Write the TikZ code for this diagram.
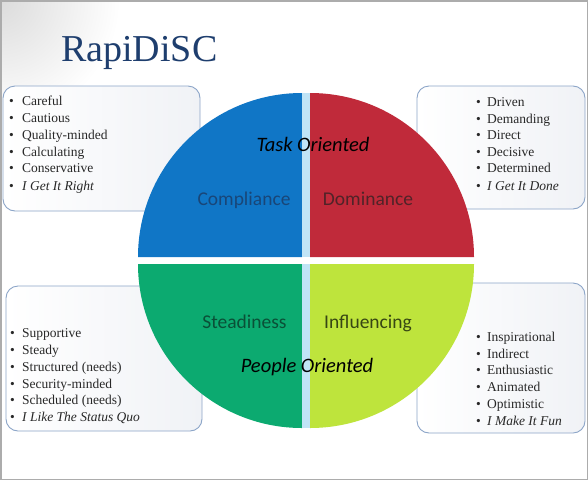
\documentclass[tikz,border=0pt]{standalone}
\usepackage{fontspec}
\setmainfont{Liberation Serif}
\newfontfamily\calib{Carlito}
\definecolor{cblue}{RGB}{16,118,198}
\definecolor{cred}{RGB}{192,42,58}
\definecolor{cgreen}{RGB}{12,170,112}
\definecolor{clime}{RGB}{190,228,60}
\definecolor{cstripe}{RGB}{192,228,246}
\definecolor{cborder}{RGB}{140,165,200}
\definecolor{ctitle}{RGB}{30,62,110}
\definecolor{cboxr}{RGB}{240,242,246}
\definecolor{ctext}{RGB}{40,40,40}
\definecolor{tcomp}{RGB}{25,70,120}
\definecolor{tdom}{RGB}{80,35,40}
\definecolor{tstead}{RGB}{10,80,55}
\definecolor{tinfl}{RGB}{55,70,20}
\newcommand\rditem[2]{\makebox[#1][l]{\textbullet}#2}
\begin{document}
\begin{tikzpicture}[x=1pt,y=-1pt,
  listbox/.style={draw=cborder,line width=0.9pt,rounded corners=12pt,
    left color=white,right color=cboxr,inner sep=0pt},
  item/.style={anchor=base west,inner sep=0pt,text=ctext,font=\fontsize{13.5}{15}\selectfont},
  quadlabel/.style={anchor=base,inner sep=0pt,font=\calib\fontsize{19.5}{22}\selectfont},
  orient/.style={anchor=base,inner sep=0pt,font=\calib\itshape\fontsize{20.5}{23}\selectfont}]
\useasboundingbox (0,0) rectangle (588,480);
\fill[white] (0,0) rectangle (588,480);
\begin{scope}
  \clip (0,0) rectangle (588,480);
  \shade[inner color=gray!28,outer color=white] (0,0) circle[radius=120];
\end{scope}
\draw[gray!65,line width=1.5pt] (0.75,0.75) rectangle (587.25,479.25);

% title
\node[anchor=base west,inner sep=0pt,text=ctitle,font=\fontsize{38}{40}\selectfont] (title) at (61,61) {RapiDiSC};

% boxes
\node[listbox,minimum width=197pt,minimum height=125pt] (tlbox) at (101.5,148.5) {};
\node[listbox,minimum width=168pt,minimum height=123pt] (trbox) at (501,147.5) {};
\node[listbox,minimum width=196pt,minimum height=145pt] (blbox) at (104,358.5) {};
\node[listbox,minimum width=168pt,minimum height=150pt] (brbox) at (501,358) {};

% quadrants
\fill[cblue] (302,257) -- (138,257) arc[start angle=180,end angle=270,radius=164] -- cycle;
\fill[cred] (310,257) -- (310,93) arc[start angle=270,end angle=360,radius=164] -- cycle;
\fill[cgreen] (302,264) -- (138,264) arc[start angle=180,end angle=90,radius=164] -- cycle;
\fill[clime] (310,264) -- (474,264) arc[start angle=0,end angle=90,radius=164] -- cycle;
\fill[cstripe] (302,93.3) rectangle (310,257);
\fill[cstripe] (302,264) rectangle (310,427.7);

% quadrant labels
\node[quadlabel,text=tcomp] (comp) at (244,205) {Compliance};
\node[quadlabel,text=tdom] (dom) at (368,205) {Dominance};
\node[quadlabel,text=tstead] (stead) at (244.5,328) {Steadiness};
\node[quadlabel,text=tinfl] (infl) at (368,328) {Influencing};
\node[orient] (task) at (313,151) {Task Oriented};
\node[orient] (people) at (307,372) {People Oriented};

% top-left list
\node[item] (tl1) at (9,105.5) {\rditem{13pt}{Careful}};
\node[item] (tl2) at (9,122.5) {\rditem{13pt}{Cautious}};
\node[item] (tl3) at (9,139) {\rditem{13pt}{Quality-minded}};
\node[item] (tl4) at (9,156) {\rditem{13pt}{Calculating}};
\node[item] (tl5) at (9,172.5) {\rditem{13pt}{Conservative}};
\node[item] (tl6) at (9,190) {\rditem{13pt}{\itshape I Get It Right}};

% top-right list
\node[item] (tr1) at (476,106) {\rditem{11pt}{Driven}};
\node[item] (tr2) at (476,123) {\rditem{11pt}{Demanding}};
\node[item] (tr3) at (476,139.5) {\rditem{11pt}{Direct}};
\node[item] (tr4) at (476,156) {\rditem{11pt}{Decisive}};
\node[item] (tr5) at (476,172.5) {\rditem{11pt}{Determined}};
\node[item] (tr6) at (476,190) {\rditem{11pt}{\itshape I Get It Done}};

% bottom-left list
\node[item] (bl1) at (10,337.5) {\rditem{12pt}{Supportive}};
\node[item] (bl2) at (10,354) {\rditem{12pt}{Steady}};
\node[item] (bl3) at (10,371) {\rditem{12pt}{Structured (needs)}};
\node[item] (bl4) at (10,388) {\rditem{12pt}{Security-minded}};
\node[item] (bl5) at (10,404.5) {\rditem{12pt}{Scheduled (needs)}};
\node[item] (bl6) at (10,421) {\rditem{12pt}{\itshape I Like The Status Quo}};

% bottom-right list
\node[item] (br1) at (476,341) {\rditem{11pt}{Inspirational}};
\node[item] (br2) at (476,358) {\rditem{11pt}{Indirect}};
\node[item] (br3) at (476,374.5) {\rditem{11pt}{Enthusiastic}};
\node[item] (br4) at (476,391) {\rditem{11pt}{Animated}};
\node[item] (br5) at (476,408) {\rditem{11pt}{Optimistic}};
\node[item] (br6) at (476,425) {\rditem{11pt}{\itshape I Make It Fun}};
\end{tikzpicture}
\end{document}
